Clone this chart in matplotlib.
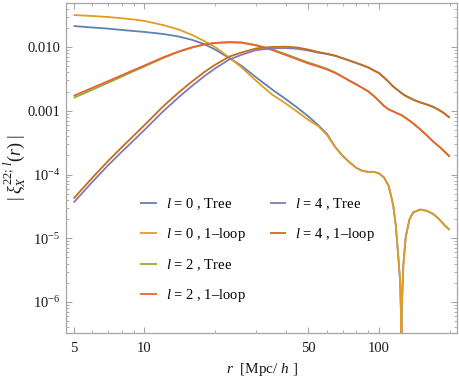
import matplotlib
matplotlib.use('Agg')
import matplotlib.pyplot as plt
from matplotlib.lines import Line2D
from matplotlib.ticker import FixedLocator, FixedFormatter, NullFormatter

plt.rcParams['font.family'] = ['Liberation Serif', 'DejaVu Serif']
plt.rcParams['mathtext.fontset'] = 'custom'
plt.rcParams['mathtext.rm'] = 'Liberation Serif'
plt.rcParams['mathtext.it'] = 'Liberation Serif:italic'
plt.rcParams['mathtext.bf'] = 'Liberation Serif:bold'

# ---------------- data ----------------
r_l0 = [5, 6, 7, 8, 9, 10, 12, 14, 16, 18, 20, 23, 26, 30, 35, 40, 45, 50,
        55, 60, 65, 70, 75, 80, 85, 90, 95, 100, 105, 110, 115, 118, 121, 122,
        123, 124, 124.5, 125, 127, 130, 135, 140, 150, 160, 170, 180, 190, 200]

l0_tree = [0.0213, 0.0202, 0.0194, 0.0185, 0.0178, 0.0172, 0.0160, 0.0146, 0.0129,
           0.0111, 0.00914, 0.00672, 0.00504, 0.00333, 0.00216, 0.00153, 0.00111,
           0.000814, 0.000599, 0.000435, 0.000271, 0.000196, 0.000155, 0.000127,
           0.000114, 0.000110, 0.000110, 0.000104, 9.0e-5, 6.6e-5, 3.3e-5, 1.55e-5,
           4.9e-6, 3.2e-6, 2.2e-6, 7.5e-7, 1e-9, 7.5e-7, 3.8e-6, 1.05e-5, 2.0e-5,
           2.55e-5, 2.82e-5, 2.69e-5, 2.41e-5, 2.01e-5, 1.62e-5, 1.35e-5]

l0_loop = [0.0317, 0.0306, 0.0295, 0.0282, 0.0270, 0.0256, 0.0221, 0.0188, 0.0154,
           0.0124, 0.0100, 0.00684, 0.00477, 0.00293, 0.00180, 0.00130, 0.000958,
           0.000717, 0.000578, 0.000418, 0.000271, 0.000196, 0.000155, 0.000127,
           0.000114, 0.000110, 0.000110, 0.000104, 9.0e-5, 6.6e-5, 3.3e-5, 1.55e-5,
           4.9e-6, 3.2e-6, 2.2e-6, 7.5e-7, 1e-9, 7.5e-7, 3.8e-6, 1.05e-5, 2.0e-5,
           2.55e-5, 2.82e-5, 2.69e-5, 2.41e-5, 2.01e-5, 1.62e-5, 1.35e-5]

r_c = [5, 6, 7, 8, 9, 10, 12, 14, 16, 18, 20, 23, 26, 30, 35, 40, 45, 50, 55, 60,
       65, 70, 75, 80, 85, 90, 95, 100, 105, 110, 115, 120, 125, 130, 140, 150,
       160, 170, 180, 190, 200]

l2_tree = [0.00159, 0.00213, 0.00274, 0.00341, 0.00416, 0.00493, 0.00667, 0.00837,
           0.00979, 0.01089, 0.01155, 0.01190, 0.01176, 0.01070, 0.00920, 0.00773,
           0.00658, 0.00570, 0.00510, 0.00455, 0.00399, 0.00343, 0.00296, 0.00260,
           0.00228, 0.00201, 0.00171, 0.00142, 0.00119, 0.00105, 0.000975, 0.000907,
           0.000850, 0.000771, 0.000632, 0.000509, 0.000410, 0.000330, 0.000276,
           0.000230, 0.000191]

l2_loop = [0.00171, 0.00228, 0.00290, 0.00359, 0.00433, 0.00511, 0.00684, 0.00850,
           0.00989, 0.01094, 0.01155, 0.01185, 0.01168, 0.01056, 0.00897, 0.00749,
           0.00637, 0.00551, 0.004948, 0.00444, 0.003914, 0.003387, 0.002932,
           0.002584, 0.002277, 0.002007, 0.001706, 0.001424, 0.001189, 0.001048,
           0.000975, 0.000907, 0.000850, 0.000771, 0.000632, 0.000509, 0.000410,
           0.000330, 0.000276, 0.000230, 0.000191]

l4_tree = [3.63e-5, 7.61e-5, 1.385e-4, 2.25e-4, 3.41e-4, 4.96e-4, 9.69e-4, 1.62e-3,
           2.46e-3, 3.47e-3, 4.58e-3, 6.35e-3, 7.54e-3, 8.93e-3, 9.5e-3, 9.6e-3,
           9.36e-3, 8.78e-3, 8.14e-3, 7.73e-3, 7.26e-3, 6.64e-3, 6.1e-3, 5.61e-3,
           5.18e-3, 4.77e-3, 4.28e-3, 3.91e-3, 3.33e-3, 2.83e-3, 2.39e-3, 2.12e-3,
           1.88e-3, 1.71e-3, 1.49e-3, 1.35e-3, 1.25e-3, 1.15e-3, 1.03e-3, 9.07e-4,
           7.79e-4]

l4_loop = [4.2e-5, 8.85e-5, 1.62e-4, 2.65e-4, 4.04e-4, 5.91e-4, 1.16e-3, 1.93e-3,
           2.89e-3, 4.03e-3, 5.23e-3, 7.06e-3, 8.2e-3, 9.5e-3, 1.0e-2, 1.01e-2,
           9.8e-3, 9.1e-3, 8.35e-3, 7.85e-3, 7.33e-3, 6.67e-3, 6.1e-3, 5.61e-3,
           5.18e-3, 4.77e-3, 4.28e-3, 3.91e-3, 3.33e-3, 2.83e-3, 2.39e-3, 2.12e-3,
           1.88e-3, 1.71e-3, 1.49e-3, 1.35e-3, 1.25e-3, 1.15e-3, 1.03e-3, 9.07e-4,
           7.79e-4]

labels = [r'$l$ = 0 , Tree', r'$l$ = 0 , 1–loop', r'$l$ = 2 , Tree',
          r'$l$ = 2 , 1–loop', r'$l$ = 4 , Tree', r'$l$ = 4 , 1–loop']
colors = ['#5E81B5', '#E19C24', '#8FB032', '#EB6235', '#8778B3', '#C56E1A']

x_major = [5, 10, 50, 100]
x_major_labels = ['5', '10', '50', '100']
x_minor = [6, 7, 8, 9, 20, 30, 40, 60, 70, 80, 90, 200]
y_major = [1e-6, 1e-5, 1e-4, 1e-3, 1e-2]
y_major_labels = [r'$10^{-6}$', r'$10^{-5}$', r'$10^{-4}$', '0.001', '0.010']

# ---------------- plot ----------------
W, H = 460, 380
fig = plt.figure(figsize=(W / 100, H / 100), dpi=100)
ax = fig.add_axes([66 / W, 1 - 333 / H, (457 - 66) / W, (333 - 3) / H])

series = [(r_l0, l0_tree), (r_l0, l0_loop), (r_c, l2_tree), (r_c, l2_loop),
          (r_c, l4_tree), (r_c, l4_loop)]
handles = []
for (rr, vv), c, lab in zip(series, colors, labels):
    h, = ax.plot(rr, vv, color=c, lw=1.3, label=lab, solid_capstyle='butt')
    handles.append(h)

ax.set_xscale('log')
ax.set_yscale('log')
ax.set_xlim(4.64, 215)
ax.set_ylim(3.27e-7, 0.0489)

ax.xaxis.set_major_locator(FixedLocator(x_major))
ax.xaxis.set_major_formatter(FixedFormatter(x_major_labels))
ax.xaxis.set_minor_locator(FixedLocator(x_minor))
ax.xaxis.set_minor_formatter(NullFormatter())

y_minor = [m * 10.0 ** e for e in range(-7, -1) for m in range(2, 10)]
ax.yaxis.set_major_locator(FixedLocator(y_major))
ax.yaxis.set_major_formatter(FixedFormatter(y_major_labels))
ax.yaxis.set_minor_locator(FixedLocator(y_minor))
ax.yaxis.set_minor_formatter(NullFormatter())

frame_col = '#a6a6a6'
for s in ax.spines.values():
    s.set_color(frame_col)
    s.set_linewidth(0.9)
ax.tick_params(which='both', direction='in', top=True, right=True,
               color=frame_col, labelcolor='#1a1a1a', labelsize=10.5)
ax.tick_params(which='major', length=4.5, width=0.8)
ax.tick_params(which='minor', length=2.5, width=0.6)
ax.tick_params(axis='x', which='major', pad=6.2)
ax.tick_params(axis='y', which='major', pad=4)

# legend (4 rows x 2 columns, column-major)
blank = Line2D([], [], color='none')
leg = ax.legend(handles + [blank, blank], labels + ['', ''], ncol=2,
                frameon=False, fontsize=10.5, loc='upper left',
                bbox_to_anchor=(140 / W, 1 - 196 / H),
                bbox_transform=fig.transFigure, borderpad=0,
                handlelength=1.15, handletextpad=0.6, labelspacing=0.97,
                columnspacing=1.65, borderaxespad=0)

fig.text(15 / W, 1 - 168 / H, r'$|\;\xi_{X}^{22;\,l}(r)\;|$', rotation=90,
         ha='center', va='center', fontsize=13, color='#1a1a1a')
fig.text(262 / W, 1 - 369 / H, r'$r$  [Mpc/ $h$ ]', ha='center', va='center',
         fontsize=11, color='#1a1a1a')

fig.savefig('out.png', dpi=100)
